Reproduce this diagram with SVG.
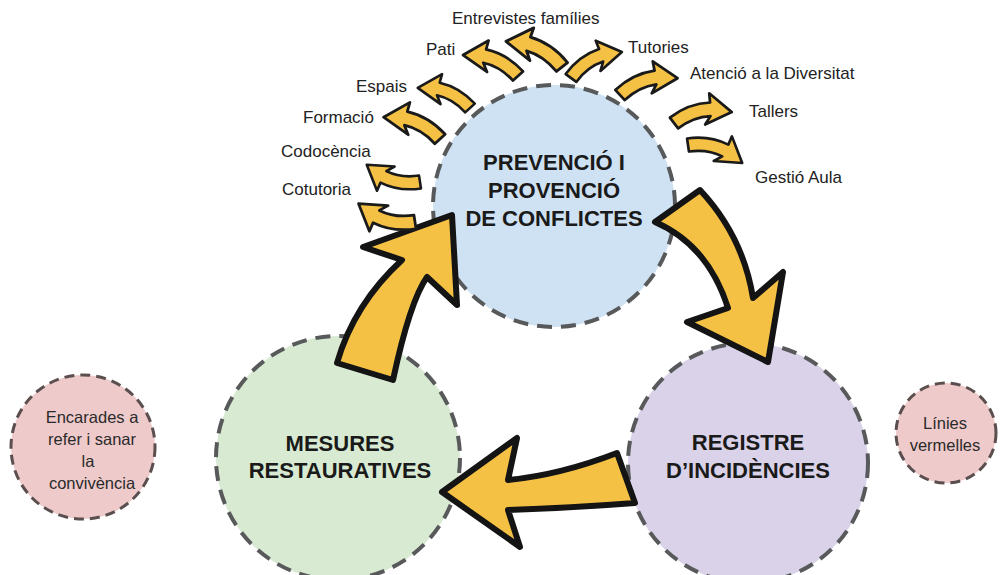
<svg xmlns="http://www.w3.org/2000/svg" xmlns:xlink="http://www.w3.org/1999/xlink" width="1000" height="575" viewBox="0 0 1000 575">
<style>
.big{stroke:#58595b;stroke-width:4;stroke-dasharray:15 9;}
.side{fill:#efcaca;stroke:#5a4e4e;stroke-width:3;stroke-dasharray:10 6;}
.tb{font-family:"Liberation Sans",Arial,Helvetica,sans-serif;font-weight:bold;font-size:22px;fill:#1a1a1a;text-anchor:middle;}
.ts{font-family:"Liberation Sans",Arial,Helvetica,sans-serif;font-size:17px;fill:#222;}
.tc{font-family:"Liberation Sans",Arial,Helvetica,sans-serif;font-size:16.5px;fill:#2a2a2a;text-anchor:middle;}
.ya{fill:#f4c144;stroke:#1a1a1a;stroke-width:2.6;stroke-linejoin:round;}
.yb{fill:#f4c144;stroke:#141414;stroke-width:6;stroke-linejoin:round;}
</style>
<defs>
<path id="sa" d="M-2.9,-5.8 Q17.1,-15.8 37.4,-12.8 L38.2,-21.6 L56,0 L28.9,6.9 L35.4,0 Q19.3,-2.4 2.9,5.8 Z"/>
</defs>
<rect width="1000" height="575" fill="#ffffff"/>

<g id="node-prevencio">
<circle cx="554" cy="206" r="121" fill="#cfe2f3" class="big"/>
<text class="tb" x="554" y="170">PREVENCIÓ I</text>
<text class="tb" x="554" y="198">PROVENCIÓ</text>
<text class="tb" x="554" y="226">DE CONFLICTES</text>
</g>

<g id="node-mesures">
<circle cx="338" cy="458" r="122" fill="#d9ead3" class="big"/>
<text class="tb" x="340" y="451">MESURES</text>
<text class="tb" x="340" y="478">RESTAURATIVES</text>
</g>

<g id="node-registre">
<circle cx="748" cy="463" r="120" fill="#d9d2e9" class="big"/>
<text class="tb" x="748" y="450">REGISTRE</text>
<text class="tb" x="748" y="478">D’INCIDÈNCIES</text>
</g>

<g id="node-encarades">
<circle cx="83" cy="447" r="72" class="side"/>
<text class="tc" x="92" y="423">Encarades a</text>
<text class="tc" x="92" y="445">refer i sanar</text>
<text class="tc" x="88" y="467">la</text>
<text class="tc" x="92" y="489">convivència</text>
</g>

<g id="node-linies">
<circle cx="946" cy="433" r="50" class="side"/>
<text class="tc" x="945" y="429">Línies</text>
<text class="tc" x="945" y="451">vermelles</text>
</g>

<g id="labels">
<text class="ts" x="452" y="24">Entrevistes famílies</text>
<text class="ts" x="426" y="55">Pati</text>
<text class="ts" x="628" y="53">Tutories</text>
<text class="ts" x="356" y="92">Espais</text>
<text class="ts" x="690" y="79">Atenció a la Diversitat</text>
<text class="ts" x="303" y="123">Formació</text>
<text class="ts" x="749" y="117">Tallers</text>
<text class="ts" x="281" y="157">Codocència</text>
<text class="ts" x="282" y="195">Cotutoria</text>
<text class="ts" x="755" y="183">Gestió Aula</text>
</g>

<g id="connectors">
<path class="yb" d="M655,222 L700,190 Q743,236 753,298 L783,272 L768,362 L687,322 L728,308 Q708,245 655,222 Z"/>
<path class="yb" d="M442,492 L517,438 L508,480 Q560,475 617,453 L635,503 Q570,508 508,510 L520,547 Z"/>
<path class="yb" d="M337,363 Q354,304 402,260 L363,247 L452,215 L457,305 L427,277 Q410,301 393,380 Z"/>

<use xlink:href="#sa" class="ya" transform="translate(571,78) rotate(-27) scale(1.02)"/>
<use xlink:href="#sa" class="ya" transform="translate(620,95) rotate(-16.3) scale(1.07)"/>
<use xlink:href="#sa" class="ya" transform="translate(674,123) rotate(-10.7) scale(1.05)"/>
<use xlink:href="#sa" class="ya" transform="translate(688,145) rotate(18.4) scale(1.02)"/>
<use xlink:href="#sa" class="ya" transform="translate(562,67) rotate(-155.4) scale(1.1,-1.1)"/>
<use xlink:href="#sa" class="ya" transform="translate(518,76) rotate(-159.1) scale(1.05,-1.05)"/>
<use xlink:href="#sa" class="ya" transform="translate(470,108) rotate(-159) scale(1.0,-1.0)"/>
<use xlink:href="#sa" class="ya" transform="translate(440,139) rotate(-158.9) scale(1.08,-1.08)"/>
<use xlink:href="#sa" class="ya" transform="translate(420,182) rotate(-162) scale(1.0)"/>
<use xlink:href="#sa" class="ya" transform="translate(415,222) rotate(-162) scale(1.06)"/>
</g>
</svg>
